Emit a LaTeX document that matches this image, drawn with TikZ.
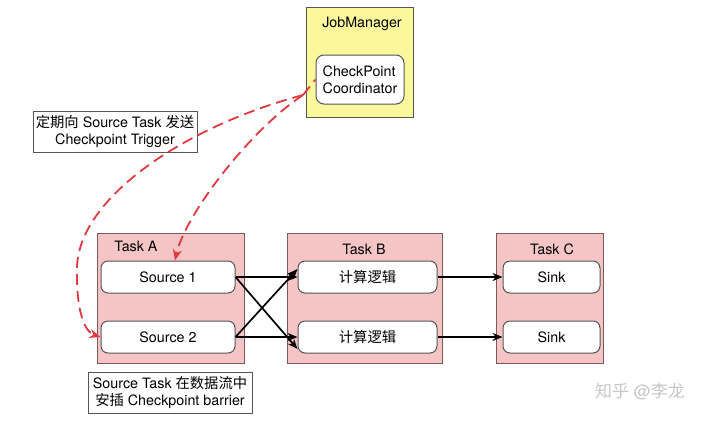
\documentclass[tikz,border=0pt]{standalone}
\usepackage{fontspec}
\setmainfont{TeX Gyre Heros}
\newfontfamily\cjk{Noto Sans CJK SC}
\usetikzlibrary{arrows.meta}
\definecolor{jmfill}{HTML}{FBF89C}
\definecolor{taskfill}{HTML}{F5C5C5}
\definecolor{taskline}{HTML}{7A5A5A}
\definecolor{boxline}{HTML}{555555}
\definecolor{trig}{HTML}{E03A40}
\begin{document}
\begin{tikzpicture}[x=1pt,y=-1pt,
  every node/.style={font=\fontsize{14.3}{17}\selectfont, inner sep=0pt},
  jm/.style={draw=boxline, fill=jmfill, line width=1pt, minimum width=107pt, minimum height=110pt},
  task/.style={draw=taskline, fill=taskfill, line width=1pt, minimum height=130pt},
  inner/.style={draw=boxline, fill=white, rounded corners=7pt, line width=1pt, minimum height=32pt},
  lbl/.style={draw=boxline, fill=white, line width=1pt, align=center},
  flow/.style={-{Stealth[length=10pt,width=8pt]}, line width=1.7pt, black},
  trigger/.style={-{Stealth[length=11pt,width=9pt]}, trig, line width=1.8pt, dash pattern=on 11pt off 6pt}
]
\useasboundingbox (0,0) rectangle (720,421);
\fill[white] (0,0) rectangle (720,421);

% JobManager
\node[jm] (jm) at (359.5,62) {};
\node (jmt) at (362,24) {JobManager};
\node[draw=boxline, fill=white, rounded corners=8pt, line width=1pt,
      minimum width=88pt, minimum height=49pt, align=left] (coord) at (360,79.5) {CheckPoint\\Coordinator};

% tasks
\node[task, minimum width=147pt] (ta) at (170.5,298) {};
\node[task, minimum width=155pt] (tb) at (364.5,298) {};
\node[task, minimum width=107pt] (tc) at (549.5,298) {};
\node (tat) at (136,246) {Task A};
\node (tbt) at (364,249) {Task B};
\node (tct) at (552,249) {Task C};

\node[inner, minimum width=134pt] (s1) at (168,277) {Source 1};
\node[inner, minimum width=134pt] (s2) at (168,337) {Source 2};
\node[inner, minimum width=139pt] (b1) at (367.5,277) {\cjk 计算逻辑};
\node[inner, minimum width=139pt] (b2) at (367.5,337) {\cjk 计算逻辑};
\node[inner, minimum width=97pt] (c1) at (551.5,277) {Sink};
\node[inner, minimum width=97pt] (c2) at (551.5,337) {Sink};

% labels
\node[lbl, minimum width=164pt, minimum height=41pt] (l1) at (115,131.5)
  {{\cjk 定期向} Source Task {\cjk 发送}\\Checkpoint Trigger};
\node[lbl, minimum width=164pt, minimum height=41pt] (l2) at (170,392.5)
  {Source Task {\cjk 在数据流中}\\{\cjk 安插} Checkpoint barrier};

% watermark
\node[text=black!22, font=\fontsize{17}{19}\selectfont] (wm) at (640,392) {{\cjk 知乎} @{\cjk 李龙}};

% data flow
\draw[flow] (s1.east) -- (b1.west);
\draw[flow] (s2.east) -- (b2.west);
\draw[flow] (s1.east) -- ([yshift=-12pt]b2.west);
\draw[flow] (s2.east) -- ([yshift=8pt]b1.west);
\draw[flow] (b1.east) -- (c1.west);
\draw[flow] (b2.east) -- (c2.west);

% triggers
\coordinate (st) at (303,95);
\draw[trigger] (st) .. controls (250,130) and (185,215) .. ([xshift=7pt]s1.north);
\draw[trigger] (st) .. controls (180,128) and (78,200) .. (77,268)
   .. controls (76,320) and (88,333) .. (s2.west);
\draw[trig, line width=1.8pt, dash pattern=on 11pt off 6pt] (st) -- (coord.west);
\end{tikzpicture}
\end{document}
